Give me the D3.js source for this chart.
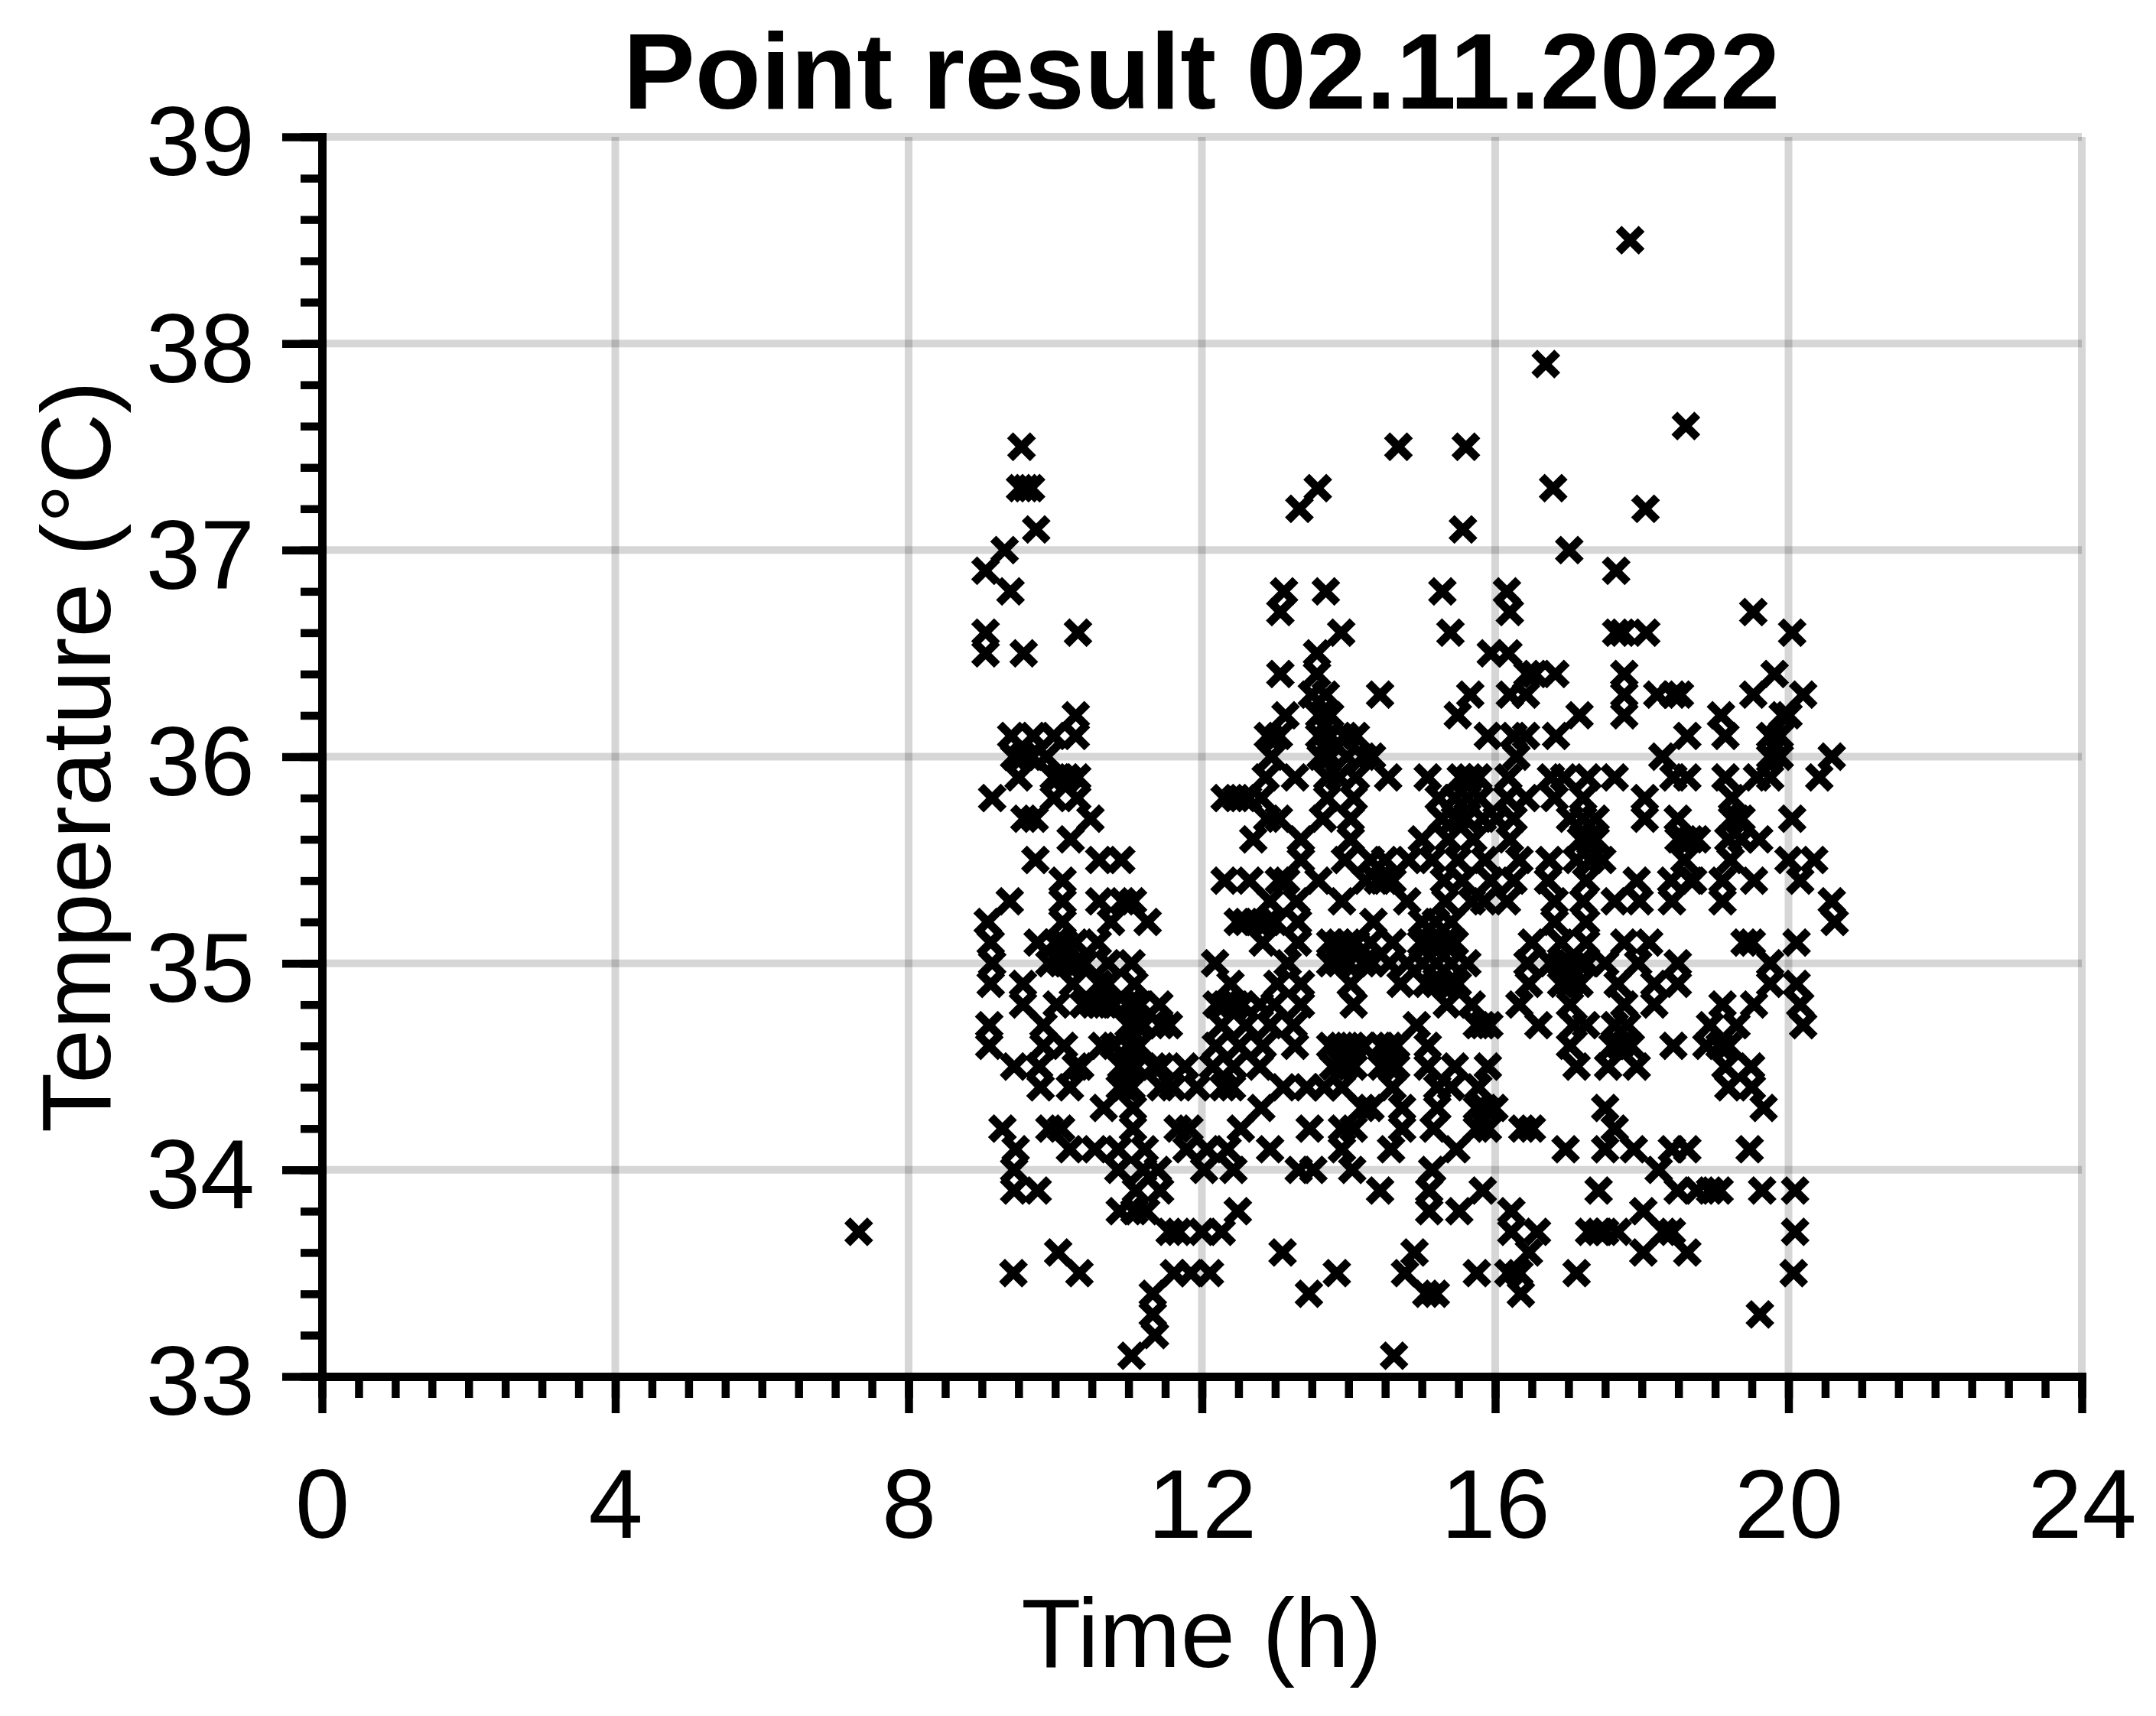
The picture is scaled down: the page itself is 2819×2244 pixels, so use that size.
<!DOCTYPE html>
<html><head><meta charset="utf-8">
<script src="https://cdn.jsdelivr.net/npm/d3@7/dist/d3.min.js"></script>
<style>html,body{margin:0;background:#fff}svg{display:block}text{font-family:"Liberation Sans",Arial,sans-serif;fill:#000}</style>
</head><body><svg id="c" width="2819" height="2244"></svg>
<script>
const chartTitle="Point result 02.11.2022", xLabel="Time (h)", yLabel="Temperature (°C)";
const xTicks=[0,4,8,12,16,20,24], yTicks=[33,34,35,36,37,38,39];
const rowTemps=[38.5,37.9,37.6,37.5,37.3,37.2,37.1,37.0,36.9,36.8,36.7,36.6,36.5,36.4,36.3,36.2,36.1,36.0,35.9,35.8,35.7,35.6,35.5,35.4,35.3,35.2,35.1,35.0,34.9,34.8,34.7,34.6,34.5,34.4,34.3,34.2,34.1,34.0,33.9,33.8,33.7,33.6,33.5,33.4,33.3,33.2,33.1];
const rowTimes=[
[17.84],[16.69],[18.6],[9.54,14.68,15.6],[9.52,9.6,9.67,13.58,16.79],[13.33,18.05],[9.74,15.56],[9.31,17.01],[9.05,17.65],[9.39,13.12,13.69,15.28,16.16],
[13.07,16.2,19.52],[9.05,10.31,13.9,15.39,17.65,17.74,18.06,20.05],[9.05,9.57,13.57,15.94,16.18],[13.07,13.57,16.44,16.54,16.82,17.76,19.81],
[13.5,13.69,14.43,15.66,16.2,16.42,17.76,18.21,18.43,18.52,19.52,20.2],[10.28,13.14,13.6,13.75,15.49,17.15,17.76,19.08,19.92,20.0],
[9.4,9.7,9.98,10.28,12.9,13.05,13.6,13.75,13.95,14.1,15.9,16.25,16.42,16.83,18.62,19.14,19.75,19.88],
[9.44,9.56,9.68,9.88,12.95,13.62,13.75,13.98,14.2,14.32,16.29,18.28,19.75,19.88,20.59],
[9.5,9.98,10.04,10.16,10.3,12.87,13.27,13.71,13.87,14.1,14.54,15.08,15.53,15.65,15.77,16.18,16.76,16.94,17.26,17.63,18.43,18.62,19.14,19.57,19.75,20.42],
[9.14,9.98,10.3,12.31,12.47,12.63,12.81,13.71,14.07,15.23,15.45,15.62,15.79,16.16,16.42,16.81,17.2,18.04,19.23],
[9.58,9.72,10.48,12.89,13.05,13.65,14.03,15.27,15.45,15.6,15.83,16.02,16.25,17.02,17.2,17.37,18.04,18.49,19.23,19.3,19.36,20.05],
[10.21,12.7,13.35,14.03,15.0,15.36,15.7,16.2,17.17,17.27,17.37,18.5,18.58,18.67,18.75,19.18,19.36,19.6],
[9.73,10.6,10.9,13.35,13.95,14.3,14.5,14.82,15.14,15.49,15.86,16.33,16.74,17.11,17.3,17.46,18.58,19.21,20.0,20.35],
[10.1,12.31,12.65,13.05,13.15,13.59,14.23,14.4,14.5,14.6,15.3,15.55,15.94,16.25,16.72,17.24,17.93,18.4,18.67,18.7,19.1,19.53,20.16],
[9.38,10.1,10.6,10.92,11.06,12.93,13.29,13.91,14.8,15.32,15.68,15.85,16.16,16.81,17.2,17.63,17.97,18.41,19.1,20.59],
[9.08,10.1,10.76,11.26,12.49,12.6,12.75,12.9,13.0,13.31,14.34,15.0,15.19,15.4,16.81,17.24,20.63],
[9.12,9.76,10.0,10.12,10.28,10.58,12.83,13.31,13.75,13.87,14.0,14.1,14.3,14.6,14.99,15.1,15.2,15.3,15.45,16.5,16.9,17.24,17.76,18.1,19.4,19.5,20.11],
[9.14,9.92,10.08,10.15,10.28,10.4,10.72,11.04,12.18,13.17,13.75,13.87,14.0,14.2,14.32,14.56,14.8,15.01,15.2,15.4,15.62,16.44,16.76,16.9,17.02,17.15,17.25,17.5,17.95,18.49,19.75],
[9.12,9.56,10.24,10.6,10.72,11.08,12.39,13.03,13.35,14.03,14.71,15.06,15.2,15.35,15.49,16.46,16.9,17.02,17.15,17.67,18.17,18.49,19.75,20.11],
[9.56,10.02,10.38,10.52,10.6,10.68,10.8,10.99,11.05,11.16,11.42,12.2,12.31,12.47,12.55,12.79,12.99,13.35,14.07,15.34,15.68,16.33,17.02,17.76,18.17,19.1,19.53,20.16],
[9.1,9.84,11.0,11.12,11.2,11.44,11.55,12.27,12.6,12.93,13.25,14.93,15.75,15.83,15.92,16.59,17.07,17.24,17.63,17.8,18.93,19.29,20.2],
[9.1,9.84,10.12,10.64,10.8,11.0,11.14,12.19,12.51,12.83,13.27,13.75,13.9,14.05,14.2,14.45,14.56,14.65,15.08,17.02,17.6,17.7,17.85,18.43,18.88,19.06,19.18],
[9.44,9.78,10.28,10.34,10.9,10.99,11.1,11.34,11.44,11.77,12.15,12.43,12.79,13.79,13.95,14.07,14.45,14.56,14.65,15.08,15.45,15.9,17.11,17.54,17.93,19.14,19.49],
[9.8,10.2,10.88,10.95,11.04,11.44,11.6,11.93,12.29,12.41,13.11,13.43,13.67,13.91,14.6,15.21,15.4,15.77,19.18,19.5],
[10.66,11.06,12.81,14.19,14.3,14.73,15.21,15.75,15.86,15.99,17.5,19.66],
[9.28,9.92,10.08,11.06,11.67,11.83,12.53,13.47,13.91,14.07,14.73,15.16,15.75,15.9,16.37,16.5,17.63],
[9.46,10.2,10.54,10.86,11.22,11.79,12.07,12.35,12.93,13.91,14.58,15.47,16.96,17.5,17.89,18.41,18.62,19.47],
[9.44,10.86,11.2,11.4,12.03,12.43,13.32,13.52,14.05,15.14,18.23],
[9.44,9.76,11.1,11.43,14.43,15.1,15.83,17.41,18.49,18.75,18.93,19.06,19.64,20.09],
[10.88,11.08,11.24,12.49,15.1,15.51,16.22,18.02],
[7.32,11.56,11.68,12.0,12.27,16.22,16.57,17.28,17.41,17.5,17.67,18.3,18.41,20.09],
[10.04,13.1,14.9,16.46,18.02,18.62],
[9.43,10.33,11.62,11.85,12.11,13.84,14.77,15.75,16.18,16.33,17.11,20.07],
[11.33,13.46,15.06,15.19,16.35],
[11.33,19.61],[11.36],[11.04,14.62]];
const W=2819,H=2244;
const xMinor=d3.range(0,24.01,.5), yMinor=d3.range(33,39.01,.2);
const x=d3.scaleLinear([0,24],[421,2722]), y=d3.scaleLinear([33,39],[1800,179]);
const svg=d3.select("#c");
svg.append("rect").attr("width",W).attr("height",H).attr("fill","#fff");
const grid=svg.append("g").attr("stroke","#000").attr("stroke-opacity",.16).attr("stroke-width",10);
grid.selectAll("line.v").data(xTicks.slice(1)).join("line").attr("x1",d=>x(d)).attr("x2",d=>x(d)).attr("y1",y(33)).attr("y2",y(39));
grid.selectAll("line.h").data(yTicks.slice(1)).join("line").attr("y1",d=>y(d)).attr("y2",d=>y(d)).attr("x1",x(0)).attr("x2",x(24));
const pts=rowTemps.flatMap((T,i)=>rowTimes[i].map(t=>[t,T]));
const a=15;
svg.append("g").selectAll("path").data(pts).join("path")
 .attr("transform",d=>`translate(${x(d[0])},${y(d[1])})`)
 .attr("d",`M${-a},${-a}L${a},${a}M${-a},${a}L${a},${-a}`)
 .attr("stroke","#000").attr("stroke-width",11).attr("fill","none");
function styleAxis(g){g.selectAll("line").attr("stroke","#000").attr("stroke-width",10.5);g.select(".domain").attr("stroke","#000").attr("stroke-width",11).attr("fill","none");}
const gx=svg.append("g").attr("transform",`translate(0,${y(33)})`);
gx.append("g").call(d3.axisBottom(x).tickValues(xMinor).tickSize(28).tickSizeOuter(0).tickFormat("")).call(styleAxis);
gx.append("g").call(d3.axisBottom(x).tickValues(xTicks).tickSize(48).tickSizeOuter(0).tickPadding(72).tickFormat(d3.format("d"))).call(styleAxis)
 .selectAll("text").attr("font-size",128).attr("font-family","Liberation Sans").attr("fill","#000");
const gy=svg.append("g").attr("transform",`translate(${x(0)},0)`);
gy.append("g").call(d3.axisLeft(y).tickValues(yMinor).tickSize(28).tickSizeOuter(0).tickFormat("")).call(styleAxis);
gy.append("g").call(d3.axisLeft(y).tickValues(yTicks).tickSize(52).tickSizeOuter(0).tickPadding(36).tickFormat(d3.format("d"))).call(styleAxis)
 .selectAll("text").attr("font-size",128).attr("font-family","Liberation Sans").attr("fill","#000").attr("dy","0.39em");
svg.selectAll(".domain").attr("stroke-linecap","square");
svg.append("text").attr("x",1571).attr("y",142).attr("text-anchor","middle").attr("font-size",141).attr("font-weight","bold").text(chartTitle);
svg.append("text").attr("x",1571).attr("y",2180).attr("text-anchor","middle").attr("font-size",128).text(xLabel);
svg.append("text").attr("transform",`translate(144,${y(36)}) rotate(-90)`).attr("text-anchor","middle").attr("font-size",128).text(yLabel);
</script></body></html>
